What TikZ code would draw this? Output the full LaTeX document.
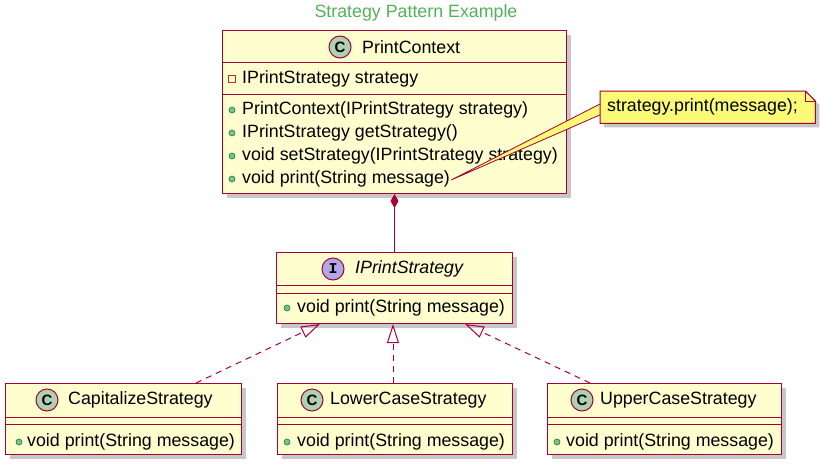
\documentclass[tikz,border=0pt]{standalone}
\usepackage{fontspec}
\setmainfont{Liberation Sans}
\newfontfamily\monofam{Liberation Mono}
\usetikzlibrary{arrows.meta,shadows,calc}
\definecolor{umlborder}{HTML}{A80036}
\definecolor{umlfill}{HTML}{FEFECE}
\definecolor{cfill}{HTML}{ADD1B2}
\definecolor{ifill}{HTML}{B4A7E5}
\definecolor{notefill}{HTML}{FBFB77}
\definecolor{titlegreen}{RGB}{84,178,84}
\definecolor{pubfill}{HTML}{84BE84}
\definecolor{pubborder}{HTML}{038048}
\definecolor{privborder}{HTML}{C82930}
\tikzset{
  shadowed/.style={drop shadow={shadow xshift=4pt, shadow yshift=-4pt, fill=black, opacity=0.22}},
  classbox/.style={draw=umlborder, fill=umlfill, line width=1pt, anchor=north west, inner sep=0pt, shadowed},
  sepline/.style={draw=umlborder, line width=1pt},
  txt/.style={font=\fontsize{17.8}{20}\selectfont},
  member/.style={txt, anchor=west, inner sep=0pt},
  pub/.style={circle, draw=pubborder, fill=pubfill, minimum size=6pt, inner sep=0pt, line width=0.6pt},
  priv/.style={rectangle, draw=privborder, minimum size=6.5pt, inner sep=0pt, line width=0.8pt},
  stereo/.style={circle, draw=umlborder, line width=1pt, minimum size=22pt, inner sep=0pt},
  cletter/.style={font=\bfseries\fontsize{15}{15}\selectfont},
  iletter/.style={font=\monofam\bfseries\fontsize{15}{15}\selectfont},
  realize/.style={draw=umlborder, line width=1pt, dash pattern=on 6pt off 5pt, -{Triangle[open, length=19pt, width=12pt, line width=1pt]}},
  compose/.style={draw=umlborder, line width=1pt, {Diamond[length=14pt, width=8pt, fill=umlborder]}-},
}
\begin{document}
\begin{tikzpicture}[x=1pt, y=-1pt]
\useasboundingbox (0,0) rectangle (835,464);

% title
\node[txt, text=titlegreen] (title) at (416,13) {Strategy Pattern Example};

% PrintContext
\node[classbox, minimum width=344pt, minimum height=163pt] (pc) at (222,30) {};
\draw[sepline] (222,62) -- (566,62);
\draw[sepline] (222,94) -- (566,94);
\node[stereo, fill=cfill] (pcC) at (340,47) {};
\node[cletter] at (pcC) {C};
\node[member] (pcT) at (362,47) {PrintContext};
\node[priv] (pca) at (232,79) {};
\node[member] (pcat) at (242,79) {IPrintStrategy strategy};
\node[pub] (pcm1) at (232,110) {};
\node[member] (pcm1t) at (242,110) {PrintContext(IPrintStrategy strategy)};
\node[pub] (pcm2) at (232,133) {};
\node[member] (pcm2t) at (242,133) {IPrintStrategy getStrategy()};
\node[pub] (pcm3) at (232,156) {};
\node[member] (pcm3t) at (242,156) {void setStrategy(IPrintStrategy strategy)};
\node[pub] (pcm4) at (232,179) {};
\node[member] (pcm4t) at (242,179) {void print(String message)};

% IPrintStrategy
\node[classbox, minimum width=236pt, minimum height=71pt] (ip) at (276,252) {};
\draw[sepline] (276,285) -- (512,285);
\draw[sepline] (276,293) -- (512,293);
\node[stereo, fill=ifill] (ipI) at (333,269) {};
\node[iletter] at (ipI) {I};
\node[member, font=\itshape\fontsize{17.8}{20}\selectfont] (ipT) at (355,269) {IPrintStrategy};
\node[pub] (ipm) at (287,308) {};
\node[member] (ipmt) at (297,308) {void print(String message)};

% CapitalizeStrategy
\node[classbox, minimum width=236pt, minimum height=71pt] (cap) at (5,383) {};
\draw[sepline] (5,417) -- (241,417);
\draw[sepline] (5,424) -- (241,424);
\node[stereo, fill=cfill] (capC) at (47,400) {};
\node[cletter] at (capC) {C};
\node[member] (capT) at (68,400) {CapitalizeStrategy};
\node[pub] (capm) at (19,442) {};
\node[member] (capmt) at (27,442) {void print(String message)};

% LowerCaseStrategy
\node[classbox, minimum width=235pt, minimum height=71pt] (low) at (277,383) {};
\draw[sepline] (277,417) -- (512,417);
\draw[sepline] (277,424) -- (512,424);
\node[stereo, fill=cfill] (lowC) at (312,400) {};
\node[cletter] at (lowC) {C};
\node[member] (lowT) at (330,400) {LowerCaseStrategy};
\node[pub] (lowm) at (287,442) {};
\node[member] (lowmt) at (297,442) {void print(String message)};

% UpperCaseStrategy
\node[classbox, minimum width=234pt, minimum height=71pt] (up) at (547,383) {};
\draw[sepline] (547,417) -- (781,417);
\draw[sepline] (547,424) -- (781,424);
\node[stereo, fill=cfill] (upC) at (582,400) {};
\node[cletter] at (upC) {C};
\node[member] (upT) at (600,400) {UpperCaseStrategy};
\node[pub] (upm) at (557,442) {};
\node[member] (upmt) at (566,442) {void print(String message)};

% composition
\draw[compose] (pc.south) -- (ip.north);

% realizations
\coordinate (capS) at ($(cap.north west)+(191,0)$);
\coordinate (capE) at ($(ip.south west)+(44,0)$);
\draw[realize] (capS) -- (capE);
\coordinate (lowS) at ($(low.north west)+(116,0)$);
\coordinate (lowE) at ($(ip.south west)+(117,0)$);
\draw[realize] (lowS) -- (lowE);
\coordinate (upS) at ($(up.north west)+(43,0)$);
\coordinate (upE) at ($(ip.south west)+(189,0)$);
\draw[realize] (upS) -- (upE);

% note wedge
\coordinate (tip) at ($(pcm4t.east)+(1,1)$);
\coordinate (wtop) at (602,103);
\coordinate (wbot) at (602,114);
\fill[notefill, draw=umlborder, line width=0.8pt, line join=round] (wtop) -- (tip) -- (wbot) -- cycle;

% note
\node[inner sep=0pt, minimum width=215pt, minimum height=32pt, anchor=north west] (note) at (600,91) {};
\path[fill=notefill, shadowed] (note.north west) -- ($(note.north east)+(-10,0)$) -- ($(note.north east)+(0,10)$) -- (note.south east) -- (note.south west) -- cycle;
\draw[umlborder, line width=1pt, line join=miter] (note.north west) -- ($(note.north east)+(-10,0)$) -- ($(note.north east)+(0,10)$) -- (note.south east) -- (note.south west) -- cycle;
\draw[umlborder, line width=1pt] ($(note.north east)+(-10,0)$) -- ($(note.north east)+(-10,10)$) -- ($(note.north east)+(0,10)$);
\node[member] (notet) at (607,107) {strategy.print(message);};
\end{tikzpicture}
\end{document}
